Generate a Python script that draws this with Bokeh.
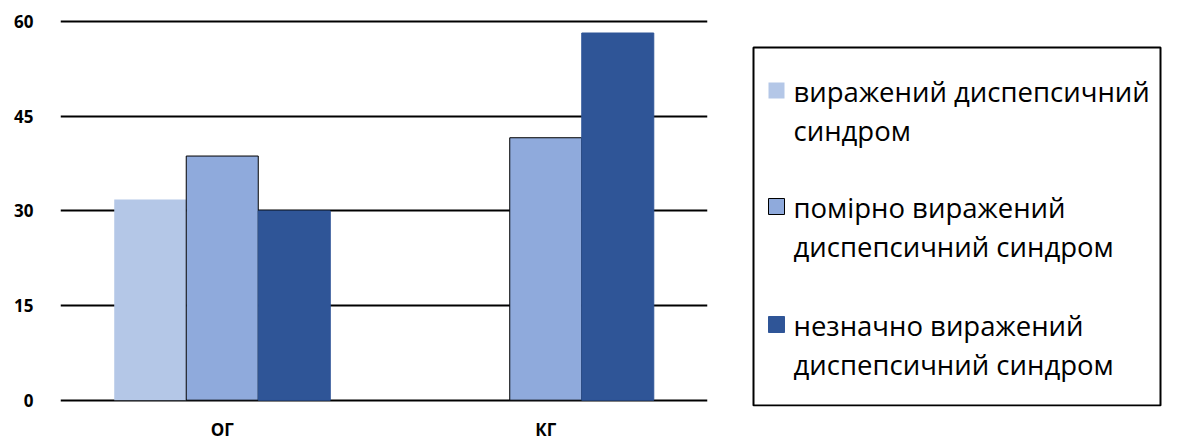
from bokeh.plotting import figure
from bokeh.models import ColumnDataSource, FactorRange, Range1d, FixedTicker
from bokeh.transform import dodge
from bokeh.layouts import row
from bokeh.embed import file_html
from bokeh.resources import INLINE
from bokeh.core.properties import value

# ---- data ----
groups = ["ОГ", "КГ"]
series_names = [
    "виражений диспепсичний\nсиндром",
    "помірно виражений\nдиспепсичний синдром",
    "незначно виражений\nдиспепсичний синдром",
]
vyrazh = [31.8, 0.0]
pomirno = [38.7, 41.6]
neznachno = [30.0, 58.2]
y_ticks = [0, 15, 30, 45, 60]

colors = ["#B4C7E7", "#8FAADC", "#2F5597"]
outlines = [None, "#000000", "#2F5597"]

src = ColumnDataSource(dict(cat=groups, s0=vyrazh, s1=pomirno, s2=neznachno))

FONT = "Open Sans"
MAIN_W = 743
H = 444
TOP = 18
FRAME_H = 388  # y from -1 to 60.5

p = figure(
    x_range=FactorRange(*groups, range_padding=0),
    y_range=Range1d(-1.0, 60.5),
    width=MAIN_W, height=H,
    output_backend="svg", toolbar_location=None,
    min_border_left=60, min_border_right=36,
    min_border_top=TOP, min_border_bottom=H - TOP - FRAME_H,
)
p.outline_line_color = None
p.background_fill_color = "white"
p.border_fill_color = "white"

bw = 0.2226
offs = [-bw, 0.0, bw]
for i, col in enumerate(["s0", "s1", "s2"]):
    p.vbar(x=dodge("cat", offs[i], range=p.x_range), top=col, bottom=0, width=bw,
           source=src, fill_color=colors[i],
           line_color=outlines[i], line_width=1)

p.xgrid.grid_line_color = None
p.ygrid.grid_line_color = "#000000"
p.ygrid.grid_line_width = 2
p.ygrid.ticker = FixedTicker(ticks=y_ticks)
p.yaxis.ticker = FixedTicker(ticks=y_ticks)

for ax in (p.xaxis[0], p.yaxis[0]):
    ax.axis_line_color = None
    ax.major_tick_line_color = None
    ax.minor_tick_line_color = None
    ax.major_label_text_font = FONT
    ax.major_label_text_font_style = "bold"
    ax.major_label_text_font_size = "17px"
    ax.major_label_text_color = "#000000"
p.yaxis.major_label_standoff = 21
p.xaxis.major_label_standoff = 5

# ---- legend panel (coordinates in page pixels; frame is row-aligned with main frame) ----
LG_W = 440
lg = figure(
    x_range=Range1d(MAIN_W, MAIN_W + LG_W), y_range=Range1d(TOP + FRAME_H, TOP),
    width=LG_W, height=H,
    output_backend="svg", toolbar_location=None,
    min_border=0, min_border_top=TOP, min_border_bottom=H - TOP - FRAME_H,
)
lg.axis.visible = False
lg.grid.visible = False
lg.outline_line_color = None
lg.border_fill_color = "white"

lg.quad(left=[753], right=[1160], top=[47], bottom=[405],
        fill_color=None, line_color="#000000", line_width=2)

first_baselines = [99.0, 215.0, 333.0]
line_gap = 38.5
sw_x, sw_size = 768, 16
tx = []; ty = []; tt = []
for i, lab in enumerate(series_names):
    b = first_baselines[i]
    lg.quad(left=[sw_x], right=[sw_x + sw_size], top=[b - sw_size - 1], bottom=[b - 1],
            fill_color=colors[i],
            line_color=outlines[i], line_width=1)
    for j, ln in enumerate(lab.split("\n")):
        tx.append(793); ty.append(b - 8 + j * line_gap); tt.append(ln)

lg.text(x=tx, y=ty, text=tt, text_font=value(FONT), text_font_size="27.5px",
        text_baseline="alphabetic", text_align="left", text_color="#000000")

layout = row(p, lg)
open("out.html", "w").write(file_html(layout, INLINE))
